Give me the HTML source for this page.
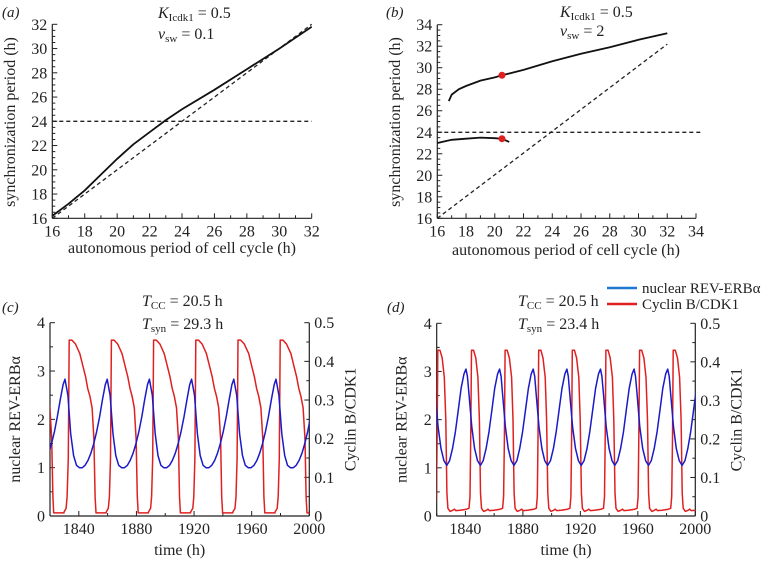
<!DOCTYPE html>
<html><head><meta charset="utf-8"><style>
body{margin:0;background:#fff;}
svg{display:block;font-family:"Liberation Serif",serif;}
text{fill:#222;}
</style></head><body>
<svg id="fig" width="763" height="561" viewBox="0 0 763 561">
<g font-size="15" font-style="italic">
<text x="2" y="17">(a)</text>
<text x="386" y="17">(b)</text>
<text x="2" y="312">(c)</text>
<text x="387" y="312">(d)</text>
</g>
<g font-size="16">
<text x="158" y="18"><tspan font-style="italic">K</tspan><tspan font-size="11" dy="3">Icdk1</tspan><tspan dy="-3"> = 0.5</tspan></text>
<text x="158" y="39"><tspan font-style="italic">v</tspan><tspan font-size="11" dy="3">sw</tspan><tspan dy="-3"> = 0.1</tspan></text>
<text x="560" y="17"><tspan font-style="italic">K</tspan><tspan font-size="11" dy="3">Icdk1</tspan><tspan dy="-3"> = 0.5</tspan></text>
<text x="560" y="36"><tspan font-style="italic">v</tspan><tspan font-size="11" dy="3">sw</tspan><tspan dy="-3"> = 2</tspan></text>
<text x="142" y="306"><tspan font-style="italic">T</tspan><tspan font-size="11" dy="3">CC</tspan><tspan dy="-3"> = 20.5 h</tspan></text>
<text x="142" y="329"><tspan font-style="italic">T</tspan><tspan font-size="11" dy="3">syn</tspan><tspan dy="-3"> = 29.3 h</tspan></text>
<text x="518" y="306"><tspan font-style="italic">T</tspan><tspan font-size="11" dy="3">CC</tspan><tspan dy="-3"> = 20.5 h</tspan></text>
<text x="518" y="329"><tspan font-style="italic">T</tspan><tspan font-size="11" dy="3">syn</tspan><tspan dy="-3"> = 23.4 h</tspan></text>
</g>
<g font-size="15">
<line x1="607" y1="288" x2="637" y2="288" stroke="#1f77d0" stroke-width="2.5"/>
<text x="642" y="293">nuclear REV-ERBα</text>
<line x1="607" y1="304" x2="637" y2="304" stroke="#e02020" stroke-width="2.5"/>
<text x="642" y="309">Cyclin B/CDK1</text>
</g>
</svg>
<script>
// Panel (a) data
const aTcc=[16,17,18,19,20,21,22,23,24,26,28,30,32];
const aTsyn=[16.2,17.2,18.3,19.6,20.9,22.1,23.1,24.1,25,26.6,28.3,30,31.8];
// Panel (b) data
const bUpperTcc=[16.8,17,17.5,18,19,20,20.5,22,24,26,28,30,32];
const bUpperTsyn=[26.9,27.5,28,28.3,28.8,29.1,29.3,29.8,30.6,31.3,31.9,32.6,33.2];
const bLowerTcc=[16,17,18,19,20,20.5,21];
const bLowerTsyn=[23,23.3,23.4,23.5,23.45,23.4,23.1];
const bDotTcc=[20.5,20.5];
const bDotTsyn=[29.3,23.4];
// Panel (c) data
const cRedRises=[1803.4,1832.7,1862,1891.3,1920.6,1949.9,1979.2];
const cRedOffsets=[-3,-1.5,-0.8,0,0.6,2.5,5,8,10,12,13.5,15,16.5,17.8,18.6,19.2,26.3];
const cRedValues=[0.01,0.02,0.05,0.15,0.455,0.455,0.445,0.42,0.39,0.36,0.33,0.31,0.28,0.2,0.05,0.008,0.008];
const cBluePeaks=[1801.1,1830.4,1859.7,1889,1918.3,1947.6,1976.9];
const cBlueOffsets=[0,2,4,6,8,10,12,14,16,18,20,22,24,26,28,29.3];
const cBlueValues=[2.83,2.5,1.7,1.25,1.05,1.0,1.0,1.05,1.15,1.3,1.5,1.75,2.05,2.4,2.72,2.83];
// Panel (d) data
const dRedRises=[1796.9,1820.3,1843.7,1867.1,1890.5,1913.9,1937.3,1960.7,1984.1];
const dRedOffsets=[-1.2,-0.5,0,0.5,2,3.5,5,6,6.8,7.5,9,11,12,13,16,20,22.2];
const dRedValues=[0.02,0.05,0.2,0.43,0.43,0.41,0.36,0.25,0.06,0.02,0.012,0.015,0.018,0.014,0.015,0.017,0.02];
const dBluePeaks=[1793.6,1817,1840.4,1863.8,1887.2,1910.6,1934,1957.4,1980.8];
const dBlueOffsets=[0,1,2,4,6,8,10,12,14,16,18,20,22,23.4];
const dBlueValues=[3.05,2.9,2.55,1.85,1.4,1.15,1.05,1.15,1.4,1.75,2.2,2.65,2.95,3.05];
const timeTicks=[1840,1880,1920,1960,2000];

const NS="http://www.w3.org/2000/svg";
const svg=document.getElementById('fig');
function mk(tag,attrs,parent){const e=document.createElementNS(NS,tag);for(const k in attrs)e.setAttribute(k,attrs[k]);(parent||svg).appendChild(e);return e;}
function lin(d0,d1,r0,r1){return v=>r0+(v-d0)*(r1-r0)/(d1-d0);}
function isMaj(v,anchor,step){const q=(v-anchor)/step;return Math.abs(q-Math.round(q))<1e-6;}

function axes(g,x,y,xr,yr,xAnchor,xMaj,xMin,yMaj,yMin){
  const [x0,x1]=xr,[y0,y1]=yr;
  const ax=mk('line',{x1:x(x0),y1:y(y0),x2:x(x1),y2:y(y0),stroke:'#222','stroke-width':1.2},g);
  
  
  const ay=mk('line',{x1:x(x0),y1:y(y0),x2:x(x0),y2:y(y1),stroke:'#222','stroke-width':1.2},g);
  
  
  for(let v=x0;v<=x1+1e-9;v+=xMin){const maj=isMaj(v,xAnchor,xMaj);
    const t=mk('line',{x1:x(v),x2:x(v),y1:y(y0),y2:y(y0)-(maj?5:3),stroke:'#222'},g);
    
    
    if(maj){const tx=mk('text',{x:x(v),y:y(y0)+18,'text-anchor':'middle','font-size':16},g);tx.textContent=String(v);
      
      }}
  for(let v=y0;v<=y1+1e-9;v+=yMin){const maj=isMaj(v,y0,yMaj);
    const t=mk('line',{x1:x(x0),x2:x(x0)+(maj?5:3),y1:y(v),y2:y(v),stroke:'#222'},g);
    
    
    if(maj){const tx=mk('text',{x:x(x0)-5,y:y(v)+5.5,'text-anchor':'end','font-size':16},g);tx.textContent=String(+v.toFixed(1));
      
      }}
}
function path(g,xs,ys,x,y,attrs){let d='';for(let i=0;i<xs.length;i++)d+=(i?'L':'M')+x(xs[i]).toFixed(1)+','+y(ys[i]).toFixed(1);return mk('path',Object.assign({d:d,fill:'none'},attrs),g);}
function rotText(g,xp,yp,ang,txt){const t=mk('text',{x:0,y:0,'text-anchor':'middle','font-size':16,transform:`translate(${xp},${yp}) rotate(${ang})`},g);t.textContent=txt;return t;}

// Panel a
{const g=mk('g',{});
 const x=lin(16,32,52.3,311.7),y=lin(16,32,218.3,24.3);
 axes(g,x,y,[16,32],[16,32],16,2,1,2,0.5);
 const h=path(g,[16,32],[24,24],x,y,{stroke:'#222','stroke-dasharray':'4,3','stroke-width':1.3});
 
 const dg=path(g,[16,32],[16,32],x,y,{stroke:'#222','stroke-dasharray':'4,3','stroke-width':1.3});
 
 const s=path(g,aTcc,aTsyn,x,y,{stroke:'#111','stroke-width':1.8});
 
 const yl=rotText(g,15,122,-90,'synchronization period (h)');
 const xl=mk('text',{x:182,y:253,'text-anchor':'middle','font-size':16},g);xl.textContent='autonomous period of cell cycle (h)';
 }
// Panel b
{const g=mk('g',{});
 const x=lin(16,34,437.3,696),y=lin(16,34,218.3,24.7);
 axes(g,x,y,[16,34],[16,34],16,2,1,2,0.5);
 const h=path(g,[16,34.3],[24,24],x,y,{stroke:'#222','stroke-dasharray':'4,3','stroke-width':1.3});
 
 const dg=path(g,[16,32],[16,32.2],x,y,{stroke:'#222','stroke-dasharray':'4,3','stroke-width':1.3});
 
 const s1=path(g,bUpperTcc,bUpperTsyn,x,y,{stroke:'#111','stroke-width':1.8});
 
 const s2=path(g,bLowerTcc,bLowerTsyn,x,y,{stroke:'#111','stroke-width':1.8});
 
 for(let i=0;i<bDotTcc.length;i++){const c=mk('circle',{cx:x(bDotTcc[i]),cy:y(bDotTsyn[i]),r:3.5,fill:'#e02020'},g);
  }
 const yl=rotText(g,400,122,-90,'synchronization period (h)');
 const xl=mk('text',{x:566,y:255,'text-anchor':'middle','font-size':16},g);xl.textContent='autonomous period of cell cycle (h)';
 }

function series(starts,offs,vals,t0,t1){const xs=[],ys=[];for(const s of starts)for(let i=0;i<offs.length;i++){const t=s+offs[i];if(t>=t0-30&&t<=t1+30){xs.push(t);ys.push(vals[i]);}}return [xs,ys];}
function tsPanel(name,left,right,top,bot,redR,redO,redV,blueP,blueO,blueV){
 const g=mk('g',{});
 const cp=mk('clipPath',{id:name+'-clip'},g);mk('rect',{x:left,y:top-5,width:right-left,height:bot-top+10},cp);
 const x=lin(1820,2000,left,right),y=lin(0,4,bot,top),y2=lin(0,0.5,bot,top);
 axes(g,x,y,[1820,2000],[0,4],timeTicks[0],timeTicks[1]-timeTicks[0],20,1,0.5);
 const ra=mk('line',{x1:right,x2:right,y1:bot,y2:top,stroke:'#222','stroke-width':1.2},g);
 
 for(let v=0;v<=0.5001;v+=0.05){const maj=Math.round(v*100)%10===0;
  const t=mk('line',{x1:right,x2:right-(maj?5:3),y1:y2(v),y2:y2(v),stroke:'#222'},g);
  
  if(maj){const tx=mk('text',{x:right+5,y:y2(v)+5.5,'font-size':16},g);tx.textContent=String(+v.toFixed(1));
   }}
 const cg=mk('g',{'clip-path':`url(#${name}-clip)`},g);
 const [rx,ry]=series(redR,redO,redV,1820,2000);
 const r=path(cg,rx,ry,x,y2,{stroke:'#e02020','stroke-width':1.5,'stroke-linejoin':'round'});
 
 const [bx,by]=series(blueP,blueO,blueV,1820,2000);
 const b=path(cg,bx,by,x,y,{stroke:'#1a1ac8','stroke-width':1.5,'stroke-linejoin':'round'});
 
 const yl=rotText(g,left-30,(top+bot)/2,-90,'nuclear REV-ERBα');
 const yr=rotText(g,right+46,(top+bot)/2,-90,'Cyclin B/CDK1');
 const xl=mk('text',{x:(left+right)/2,y:bot+39,'text-anchor':'middle','font-size':16},g);xl.textContent='time (h)';
 
}
tsPanel('panel-c',50,309.3,322.7,516,cRedRises,cRedOffsets,cRedValues,cBluePeaks,cBlueOffsets,cBlueValues);
tsPanel('panel-d',436.7,695.3,323.3,516,dRedRises,dRedOffsets,dRedValues,dBluePeaks,dBlueOffsets,dBlueValues);
</script>
</body></html>
